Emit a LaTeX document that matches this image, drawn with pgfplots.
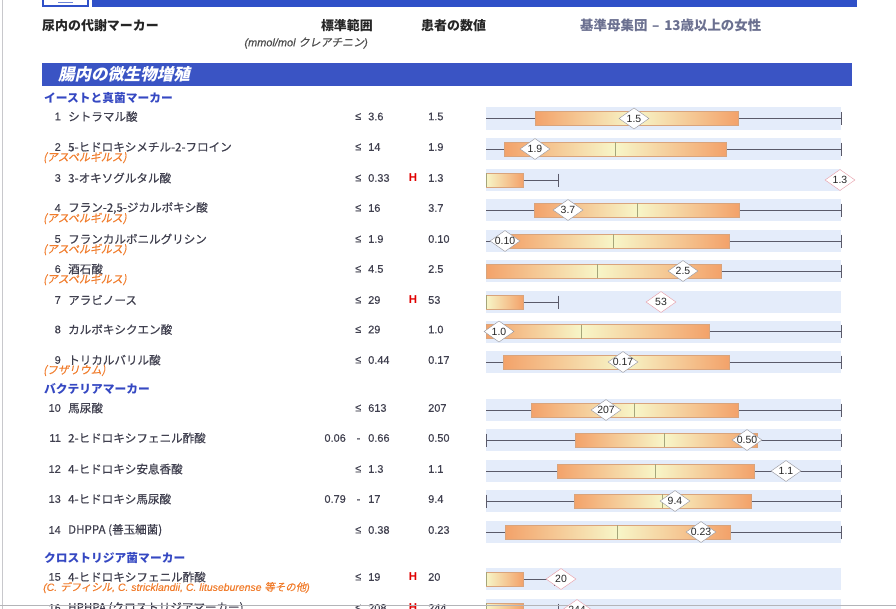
\documentclass[border=0pt]{standalone}
\usepackage{pgfplots}
\pgfplotsset{compat=1.18}
\usepackage{fontspec}
\setmainfont{Liberation Sans}
\newfontfamily\numf[FakeBold=0.35]{Liberation Sans}
\newfontfamily\jpr{Noto Sans CJK JP}
\newfontfamily\jp[FakeBold=0.45]{Noto Sans CJK JP}
\newfontfamily\jpit[FakeSlant=0.2,FakeBold=0.3]{Noto Sans CJK JP}
\newfontfamily\jpitb[FakeSlant=0.22]{Noto Sans CJK JP}
\newfontfamily\latit[FakeBold=0.3]{Liberation Sans}

\definecolor{hdrblue}{HTML}{2F50C8}
\definecolor{secblue}{HTML}{3A54C4}
\definecolor{subblue}{HTML}{3548C2}
\definecolor{txt}{HTML}{40404F}
\definecolor{orng}{HTML}{F07C2C}
\definecolor{hred}{HTML}{E00000}
\definecolor{hdrgray}{HTML}{6B7090}
\definecolor{band}{HTML}{E4ECFA}
\definecolor{boxor}{HTML}{F3A26A}
\definecolor{boxye}{HTML}{F7F6C8}
\definecolor{boxedge}{HTML}{D9A47C}
\definecolor{whisk}{HTML}{5A5A6A}
\definecolor{medc}{HTML}{A5A57A}
\definecolor{dgray}{HTML}{9A9AA2}
\definecolor{dpink}{HTML}{E8A0AA}
\definecolor{edgegray}{HTML}{C8C8CC}

\newcommand\fn{\fontsize{11}{12}\selectfont\numf}
\newcommand\fname{\fontsize{11.6}{12}\selectfont\jp}
\newcommand\fsub{\fontsize{11}{11}\selectfont\jpit}
\newcommand\fdia{\fontsize{10.5}{11}\selectfont}

% box row: #1 yc, #2 whisker left, #3 box left, #4 median, #5 box right, #6 whisker right, #7 left tick
\newcommand\boxrow[7]{%
 \pgfmathsetmacro\rya{#1-11}\pgfmathsetmacro\ryb{#1+11}%
 \pgfmathsetmacro\ryc{#1-7}\pgfmathsetmacro\ryd{#1+7}%
 \pgfmathsetmacro\rye{#1-6.5}\pgfmathsetmacro\ryf{#1+6.5}%
 \addplot[draw=none, fill=band] coordinates {(486,\rya) (841,\rya) (841,\ryb) (486,\ryb)} -- cycle;
 \addplot[whisk, line width=0.8pt] coordinates {(#2,#1) (#3,#1)};
 \addplot[whisk, line width=0.8pt] coordinates {(#5,#1) (#6,#1)};
 \addplot[whisk, line width=0.8pt] coordinates {(#6,\rye) (#6,\ryf)};
 \ifnum#7=1 \addplot[whisk, line width=0.8pt] coordinates {(#2,\rye) (#2,\ryf)};\fi
 \ifdim#3pt<#4pt
 \addplot[draw=none, left color=boxor, right color=boxye] coordinates {(#3,\ryc) (#4,\ryc) (#4,\ryd) (#3,\ryd)} -- cycle;
 \fi
 \addplot[draw=none, left color=boxye, right color=boxor] coordinates {(#4,\ryc) (#5,\ryc) (#5,\ryd) (#4,\ryd)} -- cycle;
 \addplot[boxedge, line width=0.5pt] coordinates {(#3,\ryc) (#5,\ryc) (#5,\ryd) (#3,\ryd)} -- cycle;
 \addplot[medc, line width=0.7pt] coordinates {(#4,\ryc) (#4,\ryd)};
}
% high row: #1 yc, #2 box right, #3 whisker end
\newcommand\hirow[3]{%
 \pgfmathsetmacro\rya{#1-11}\pgfmathsetmacro\ryb{#1+11}%
 \pgfmathsetmacro\ryc{#1-7}\pgfmathsetmacro\ryd{#1+7}%
 \pgfmathsetmacro\rye{#1-6.5}\pgfmathsetmacro\ryf{#1+6.5}%
 \addplot[draw=none, fill=band] coordinates {(486,\rya) (841,\rya) (841,\ryb) (486,\ryb)} -- cycle;
 \addplot[whisk, line width=0.8pt] coordinates {(#2,#1) (#3,#1)};
 \addplot[whisk, line width=0.8pt] coordinates {(#3,\rye) (#3,\ryf)};
 \addplot[draw=none, left color=boxye, right color=boxor] coordinates {(486,\ryc) (#2,\ryc) (#2,\ryd) (486,\ryd)} -- cycle;
 \addplot[boxedge, line width=0.5pt] coordinates {(486,\ryc) (#2,\ryc) (#2,\ryd) (486,\ryd)} -- cycle;
 \addplot[medc, line width=0.8pt] coordinates {(486,\ryc) (486,\ryd)};
}
% labels: #1 yc, #2 index, #3 name, #4 limit, #5 flag, #6 patient value
\newcommand\lbl[6]{%
 \node[anchor=east, inner sep=0, font=\fn, text=txt, yshift=2bp] at (axis cs:61,#1) {#2};
 \node[anchor=west, inner sep=0, font=\fname, text=txt, yshift=2bp] at (axis cs:68,#1) {#3};
 \node[anchor=west, inner sep=0, font=\fn, text=txt, yshift=2bp] at (axis cs:355,#1) {≤};
 \node[anchor=west, inner sep=0, font=\fn, text=txt, yshift=2bp] at (axis cs:368,#1) {#4};
 \node[anchor=center, inner sep=0, font=\fontsize{11.5}{12}\selectfont\bfseries, text=hred, yshift=2bp] at (axis cs:413,#1) {#5\vphantom{0}};
 \node[anchor=west, inner sep=0, font=\fn, text=txt, yshift=2bp] at (axis cs:428,#1) {#6};
}
\newcommand\lblr[6]{%
 \node[anchor=east, inner sep=0, font=\fn, text=txt, yshift=2bp] at (axis cs:61,#1) {#2};
 \node[anchor=west, inner sep=0, font=\fname, text=txt, yshift=2bp] at (axis cs:68,#1) {#3};
 \node[anchor=east, inner sep=0, font=\fn, text=txt, yshift=2bp] at (axis cs:346,#1) {#4};
 \node[anchor=west, inner sep=0, font=\fn, text=txt, yshift=2bp] at (axis cs:356.5,#1) {-\vphantom{0}};
 \node[anchor=west, inner sep=0, font=\fn, text=txt, yshift=2bp] at (axis cs:368,#1) {#5};
 \node[anchor=west, inner sep=0, font=\fn, text=txt, yshift=2bp] at (axis cs:428,#1) {#6};
}
\newcommand\sublbl[2]{\node[anchor=west, inner sep=0, font=\fsub, text=orng, yshift=-8.5bp] at (axis cs:43,#1) {#2};}

\begin{document}
\begin{tikzpicture}
\useasboundingbox (0,0) rectangle (896bp,609bp);
\clip (0,0) rectangle (896bp,609bp);
\begin{axis}[
  width=896bp, height=609bp, scale only axis,
  xmin=0, xmax=896, ymin=0, ymax=609, y dir=reverse,
  axis lines=none, clip=false,
]
% page edges
\addplot[edgegray, line width=1.2pt] coordinates {(2.5,0) (2.5,609)};
% top bar and logo
\addplot[draw=none, fill=hdrblue] coordinates {(92,-2) (857,-2) (857,7) (92,7)} -- cycle;
\addplot[draw=hdrblue, fill=white, line width=1.6pt] coordinates {(43,-3) (88,-3) (88,6) (43,6)} -- cycle;
\addplot[hdrblue!70, line width=0.6pt] coordinates {(58,2.5) (73,2.5)};
% header texts
\node[anchor=west, inner sep=0, font=\fontsize{13}{14}\selectfont\jpr\bfseries, text=black!85] at (axis cs:42,25.5) {尿内の代謝マーカー};
\node[anchor=east, inner sep=0, font=\fontsize{13}{14}\selectfont\jpr\bfseries, text=black!85] at (axis cs:373,25.5) {標準範囲};
\node[anchor=east, inner sep=0, font=\fontsize{11}{12}\selectfont\latit, text=black!70] at (axis cs:368,43) {\itshape (mmol/mol {\jpit クレアチニン})};
\node[anchor=west, inner sep=0, font=\fontsize{13}{14}\selectfont\jpr\bfseries, text=black!85] at (axis cs:421,25.5) {患者の数値};
\node[anchor=west, inner sep=0, font=\fontsize{13.5}{14}\selectfont\jpr\bfseries, text=hdrgray] at (axis cs:580,25.5) {基準母集団\hspace{0.35em}–\hspace{0.35em}13歳以上の女性};
% section bar
\addplot[draw=none, fill=secblue] coordinates {(42,63) (852,63) (852,86) (42,86)} -- cycle;
\node[anchor=west, inner sep=0, font=\fontsize{16.5}{17}\selectfont\jpitb\bfseries, text=white] at (axis cs:58,74) {腸内の微生物増殖};
% sub headers
\node[anchor=west, inner sep=0, font=\fontsize{11.8}{12}\selectfont\jpr\bfseries, text=subblue] at (axis cs:44,98.5) {イーストと真菌マーカー};
\node[anchor=west, inner sep=0, font=\fontsize{11.8}{12}\selectfont\jpr\bfseries, text=subblue] at (axis cs:44,388.5) {バクテリアマーカー};
\node[anchor=west, inner sep=0, font=\fontsize{11.8}{12}\selectfont\jpr\bfseries, text=subblue] at (axis cs:44,558) {クロストリジア菌マーカー};

% rows: yc, whisker left, box left, median, box right, whisker right, left tick
\boxrow{118.5}{486}{535}{634}{738}{841}{0}
\boxrow{149}{486}{504}{615}{726}{841}{0}
\hirow{180}{523}{558}
\boxrow{210}{486}{534}{637}{739}{841}{0}
\boxrow{241}{486}{506}{613}{729}{841}{0}
\boxrow{271}{486}{486}{597}{721}{841}{0}
\hirow{302}{523}{558}
\boxrow{331.5}{486}{486}{581}{709}{841}{0}
\boxrow{362}{486}{503}{623}{729}{841}{0}
\boxrow{410}{486}{531}{634}{738}{841}{0}
\boxrow{440}{486}{575}{664}{757}{841}{1}
\boxrow{471}{486}{557}{655}{754}{841}{0}
\boxrow{501}{486}{574}{662}{751}{841}{1}
\boxrow{532}{486}{505}{617}{730}{841}{0}
\hirow{579}{523}{554}
\hirow{610}{523}{558}

% patient markers with their values
\addplot[only marks, mark=diamond*, mark size=10.5pt,
  mark options={xscale=1.9, fill=white, draw=dgray, line width=0.45pt},
  point meta=explicit symbolic, nodes near coords,
  every node near coord/.style={anchor=center, inner sep=0pt, font=\fdia, text=black!85}]
 coordinates {
 (634,118.5) [1.5] (535,149) [1.9] (568,210) [3.7] (505,241) [0.10]
 (683,271) [2.5] (499,331.5) [1.0] (623,362) [0.17]
 (606,410) [207] (747,440) [0.50] (786,471) [1.1] (675,501) [9.4] (701,532) [0.23]};
\addplot[only marks, mark=diamond*, mark size=10.5pt,
  mark options={xscale=1.9, fill=white, draw=dpink, line width=0.45pt},
  point meta=explicit symbolic, nodes near coords,
  every node near coord/.style={anchor=center, inner sep=0pt, font=\fdia, text=black!85}]
 coordinates {(840,180) [1.3] (661,302) [53] (561,579) [20] (577,610) [244]};

% labels
\lbl{118.5}{1}{シトラマル酸}{3.6}{}{1.5}
\lbl{149}{2}{5-ヒドロキシメチル-2-フロイン}{14}{}{1.9}
\sublbl{149}{(アスペルギルス)}
\lbl{180}{3}{3-オキソグルタル酸}{0.33}{H}{1.3}
\lbl{210}{4}{フラン-2,5-ジカルボキシ酸}{16}{}{3.7}
\sublbl{210}{(アスペルギルス)}
\lbl{241}{5}{フランカルボニルグリシン}{1.9}{}{0.10}
\sublbl{241}{(アスペルギルス)}
\lbl{271}{6}{酒石酸}{4.5}{}{2.5}
\sublbl{271}{(アスペルギルス)}
\lbl{302}{7}{アラビノース}{29}{H}{53}
\lbl{331.5}{8}{カルボキシクエン酸}{29}{}{1.0}
\lbl{362}{9}{トリカルバリル酸}{0.44}{}{0.17}
\sublbl{362}{(フザリウム)}
\lbl{410}{10}{馬尿酸}{613}{}{207}
\lblr{440}{11}{2-ヒドロキシフェニル酢酸}{0.06}{0.66}{0.50}
\lbl{471}{12}{4-ヒドロキシ安息香酸}{1.3}{}{1.1}
\lblr{501}{13}{4-ヒドロキシ馬尿酸}{0.79}{17}{9.4}
\lbl{532}{14}{DHPPA (善玉細菌)}{0.38}{}{0.23}
\lbl{579}{15}{4-ヒドロキシフェニル酢酸}{19}{H}{20}
\node[anchor=west, inner sep=0, font=\fontsize{10.5}{11}\selectfont\latit\itshape, text=orng, yshift=-8.5bp] at (axis cs:43,579) {(C. {\jpit デフィシル}, C. stricklandii, C. lituseburense {\jpit 等その他})};
\lbl{610}{16}{HPHPA (クロストリジアマーカー)}{208}{H}{244}
% bottom page edge
\addplot[edgegray!90!black, line width=1.6pt] coordinates {(0,605.5) (896,605.5)};
\end{axis}
\end{tikzpicture}
\end{document}
